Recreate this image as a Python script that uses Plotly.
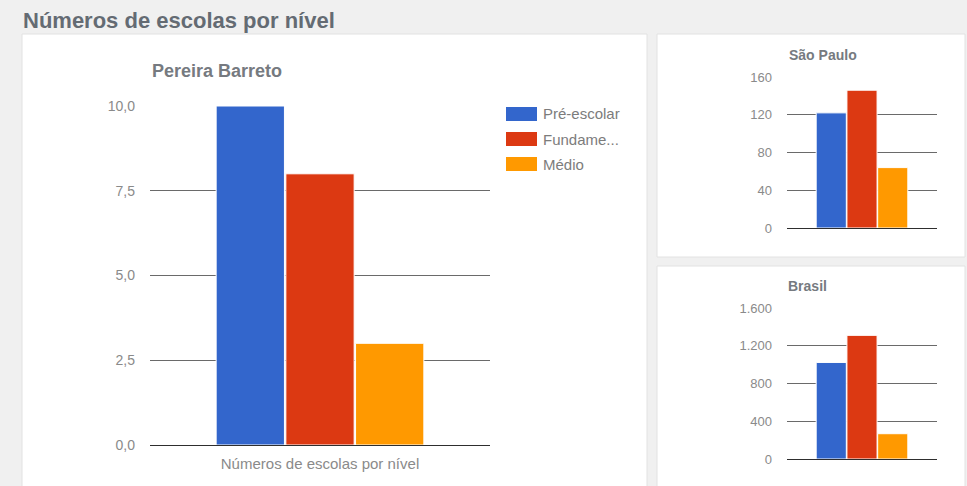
import plotly.graph_objects as go

# Number of schools by education level, for the municipality, the state and the country
levels = ["Pré-escolar", "Fundamental", "Médio"]
legend_labels = ["Pré-escolar", "Fundame...", "Médio"]
colors = ["#3366cc", "#dc3912", "#ff9900"]
category = "Números de escolas por nível"

pereira_barreto = [10, 8, 3]
sao_paulo = [122, 146, 64]
brasil = [1023, 1310, 268]

W, H = 967, 486
FONT = "Liberation Sans, Arial, sans-serif"


def px(x):
    return x / W


def py(y):
    return 1 - y / H


fig = go.Figure()

panels = [
    ("x", "y", pereira_barreto),
    ("x2", "y2", sao_paulo),
    ("x3", "y3", brasil),
]
for xa, ya, values in panels:
    for name, val, col in zip(levels, values, colors):
        fig.add_trace(go.Bar(
            x=[category], y=[val], name=name, xaxis=xa, yaxis=ya,
            marker=dict(color=col, line=dict(color="white", width=1)),
            showlegend=False,
        ))

# white cards on a light grey page
cards = [
    (22, 34, 647, 495),
    (657, 34, 965, 257),
    (657, 266, 965, 495),
]
shapes = []
for x0, y0, x1, y1 in cards:
    shapes.append(dict(type="rect", xref="paper", yref="paper", layer="below",
                       x0=px(x0), x1=px(x1), y0=py(y1), y1=py(y0),
                       fillcolor="white", line=dict(color="#e2e2e2", width=1)))

# legend for the main chart
annotations = []
for i, (label, col) in enumerate(zip(legend_labels, colors)):
    yc = 114 + 25 * i
    shapes.append(dict(type="rect", xref="paper", yref="paper",
                       x0=px(506), x1=px(537), y0=py(yc + 7), y1=py(yc - 7),
                       fillcolor=col, line=dict(width=0)))
    annotations.append(dict(xref="paper", yref="paper", x=px(541), y=py(yc),
                            xanchor="left", yanchor="middle", showarrow=False,
                            text=label, font=dict(family=FONT, size=15, color="#7c7c7c")))

titles = [
    ("Números de escolas por nível", 21, 21, 22, "#646b73"),
    ("Pereira Barreto", 150, 71, 18, "#767a80"),
    ("São Paulo", 787, 55, 14, "#767a80"),
    ("Brasil", 786, 286, 14, "#767a80"),
]
for text, x, y, size, col in titles:
    annotations.append(dict(xref="paper", yref="paper", x=px(x), y=py(y),
                            xanchor="left", yanchor="middle", showarrow=False,
                            text="<b>%s</b>" % text,
                            font=dict(family=FONT, size=size, color=col)))

grid = "#6a6a6a"
base = "#2e2e2e"


def yaxis(domain, anchor, rng, dtick, fmt, size):
    return dict(domain=domain, anchor=anchor, range=rng, dtick=dtick, tick0=0,
                tickformat=fmt,
                showgrid=True, gridcolor=grid, gridwidth=1,
                zeroline=True, zerolinecolor=base, zerolinewidth=1,
                showline=False, ticks="", ticklabelstandoff=14,
                tickfont=dict(family=FONT, size=size, color="#8a8a8a"),
                fixedrange=True)


def xaxis(domain, anchor, labels):
    return dict(domain=domain, anchor=anchor, type="category",
                showgrid=False, zeroline=False, showline=False, ticks="",
                showticklabels=labels, ticklabelstandoff=8,
                tickfont=dict(family=FONT, size=15, color="#8a8a8a"),
                fixedrange=True)


fig.update_layout(
    width=W, height=H,
    margin=dict(l=0, r=0, t=0, b=0, pad=0, autoexpand=False),
    paper_bgcolor="#f0f0f0",
    plot_bgcolor="rgba(0,0,0,0)",
    separators=",.",
    barmode="group",
    bargap=0.385,
    bargroupgap=0.02,
    showlegend=False,
    shapes=shapes,
    annotations=annotations,
    xaxis=xaxis([px(150), px(490)], "y", True),
    yaxis=yaxis([py(445), py(106)], "x", [0, 10], 2.5, ".1f", 14),
    xaxis2=xaxis([px(787), px(937)], "y2", False),
    yaxis2=yaxis([py(228), py(77)], "x2", [0, 160], 40, "d", 13),
    xaxis3=xaxis([px(787), px(937)], "y3", False),
    yaxis3=yaxis([py(459), py(308)], "x3", [0, 1600], 400, ",d", 13),
)

fig.write_html("out.html")
